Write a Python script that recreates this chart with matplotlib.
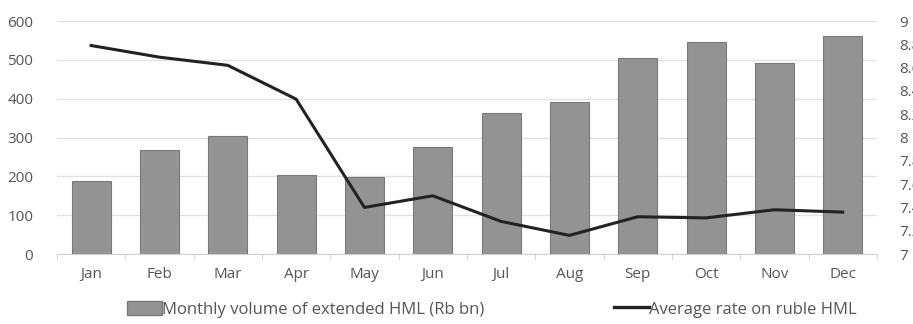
import matplotlib.pyplot as plt
from matplotlib.patches import Patch
from matplotlib.lines import Line2D

months = ['Jan', 'Feb', 'Mar', 'Apr', 'May', 'Jun', 'Jul', 'Aug', 'Sep', 'Oct', 'Nov', 'Dec']
volume = [189, 268, 305, 203, 199, 276, 362, 392, 504, 546, 492, 561]
rate = [8.79, 8.69, 8.62, 8.33, 7.40, 7.50, 7.28, 7.16, 7.32, 7.31, 7.38, 7.36]

plt.rcParams['font.family'] = ['Open Sans', 'DejaVu Sans']
txt = '#555555'
fs = 11

fig = plt.figure(figsize=(9.13, 3.24), dpi=100)
ax = fig.add_axes([0.0624, 0.216, 0.898, 0.719])
x = range(len(months))

ax.bar(x, volume, width=0.57, color='#939393', edgecolor='#7a7a7a', linewidth=0.8, zorder=2)
ax.set_ylim(0, 600)
ax.set_xlim(-0.5, 11.5)
ax.set_yticks(range(0, 601, 100))
ax.yaxis.grid(True, color='#e2e2e2', linewidth=1, zorder=0)
ax.set_xticks(x)
ax.set_xticklabels(months, color=txt, fontsize=fs)
ax.set_xticks([i - 0.5 for i in range(13)], minor=True)
ax.tick_params(axis='x', which='major', length=0, pad=9)
ax.tick_params(axis='x', which='minor', length=4, color='#d0d0d0')
ax.tick_params(axis='y', length=0, pad=17, labelcolor=txt, labelsize=fs)
for s in ['top', 'right', 'left']:
    ax.spines[s].set_visible(False)
ax.spines['bottom'].set_color('#d0d0d0')

ax2 = ax.twinx()
ax2.plot(x, rate, color='#222222', linewidth=2.2, zorder=3)
ax2.set_ylim(7, 9)
ax2.set_yticks([7, 7.2, 7.4, 7.6, 7.8, 8, 8.2, 8.4, 8.6, 8.8, 9])
ax2.set_yticklabels(['7', '7.2', '7.4', '7.6', '7.8', '8', '8.2', '8.4', '8.6', '8.8', '9'])
ax2.tick_params(axis='y', length=0, pad=16, labelcolor=txt, labelsize=fs)
for s in ax2.spines.values():
    s.set_visible(False)

handles = [Patch(facecolor='#939393', edgecolor='#7a7a7a', label='Monthly volume of extended HML (Rb bn)'),
           Line2D([], [], color='#222222', linewidth=2.4, label='Average rate on ruble HML')]
fig.legend(handles=handles, loc='center', bbox_to_anchor=(0.539, 0.045), ncol=2, frameon=False,
           fontsize=12, labelcolor=txt, columnspacing=7.8, handlelength=2.1, handleheight=0.9,
           handletextpad=0.0)

fig.savefig('out.png', dpi=100)
